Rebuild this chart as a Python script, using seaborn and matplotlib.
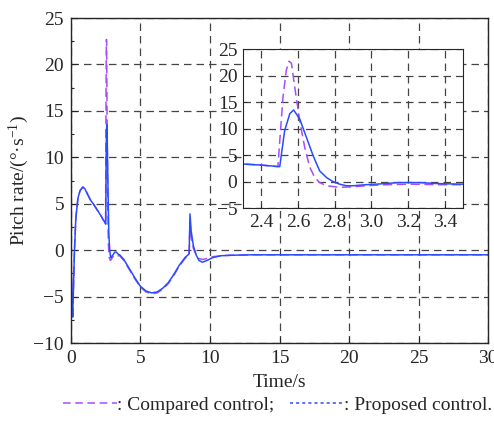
import numpy as np
import matplotlib
matplotlib.use("Agg")
import matplotlib.pyplot as plt
from matplotlib.lines import Line2D
from matplotlib.ticker import MultipleLocator
import seaborn as sns

# Pitch rate (deg/s)
t_prop = [0, 0.06, 0.12, 0.18, 0.25, 0.35, 0.5, 0.65, 0.85, 1.0, 1.2, 1.4, 1.6, 1.9, 2.2, 2.3, 2.4, 2.5,
          2.527, 2.555, 2.576, 2.609, 2.645, 2.682, 2.718, 2.755, 2.79, 2.827, 2.864, 2.9, 2.97, 3.05,
          3.15, 3.26, 3.37, 3.5, 3.8, 4.2, 4.6, 5.0, 5.4, 5.8, 6.2, 6.6, 7.0, 7.4, 7.8, 8.2, 8.5,
          8.56, 8.65, 8.8, 9.0, 9.2, 9.45, 9.8, 10.2, 10.8, 11.5, 13, 30]
y_prop = [0, -5, -7.2, -4, 0, 3.5, 5.6, 6.4, 6.8, 6.6, 6.0, 5.4, 5.0, 4.3, 3.6, 3.3, 3.1, 2.8,
          9.6, 12.8, 13.5, 11.8, 8.4, 4.9, 2.0, 0.76, 0.0, -0.5, -0.8, -0.8, -0.6, -0.45,
          -0.2, -0.2, -0.4, -0.5, -1.0, -2.0, -3.0, -3.9, -4.4, -4.6, -4.5, -4.1, -3.5, -2.6, -1.6, -0.8, -0.4,
          3.9, 2.0, 0.5, -0.5, -1.1, -1.3, -1.1, -0.8, -0.6, -0.55, -0.5, -0.5]

t_cmp = [0, 0.06, 0.12, 0.18, 0.25, 0.35, 0.5, 0.65, 0.85, 1.0, 1.2, 1.4, 1.6, 1.9, 2.2, 2.3, 2.4, 2.49,
         2.518, 2.536, 2.551, 2.564, 2.582, 2.609, 2.636, 2.664, 2.691, 2.718, 2.755, 2.827, 2.9, 2.97,
         3.08, 3.22, 3.37, 3.5, 3.8, 4.2, 4.6, 5.0, 5.4, 5.8, 6.2, 6.6, 7.0, 7.4, 7.8, 8.2, 8.5,
         8.56, 8.65, 8.8, 9.0, 9.2, 9.45, 9.8, 10.2, 10.8, 11.5, 13, 30]
y_cmp = [0, -5, -7.3, -4, 0, 3.5, 5.6, 6.4, 6.8, 6.6, 6.0, 5.4, 5.0, 4.3, 3.6, 3.3, 3.1, 2.8,
         16, 21, 22.7, 22.3, 17.8, 11.5, 6.5, 2.7, 0.76, -0.2, -0.8, -1.1, -1.0, -0.8,
         -0.6, -0.5, -0.6, -0.6, -1.1, -2.1, -3.1, -4.0, -4.5, -4.7, -4.6, -4.2, -3.6, -2.7, -1.7, -0.9, -0.5,
         3.0, 1.5, 0.2, -0.5, -0.9, -1.0, -0.9, -0.7, -0.6, -0.55, -0.5, -0.5]

main_xticks = [0, 5, 10, 15, 20, 25, 30]
main_yticks = [-10, -5, 0, 5, 10, 15, 20, 25]
inset_xticks = [2.4, 2.6, 2.8, 3.0, 3.2, 3.4]
inset_yticks = [-5, 0, 5, 10, 15, 20, 25]

c_cmp = "#a64dff"
c_prop = "#2b4bff"
grid_kw = dict(color="#444444", ls=(0, (6, 4)), lw=0.9)
fs = 14

sns.set_style("ticks")
plt.rcParams["font.family"] = ["Liberation Serif", "DejaVu Serif"]
plt.rcParams["mathtext.fontset"] = "custom"
plt.rcParams["mathtext.rm"] = "Liberation Serif"
plt.rcParams["mathtext.it"] = "Liberation Serif:italic"
plt.rcParams["axes.unicode_minus"] = True
plt.rcParams["font.size"] = fs

fig = plt.figure(figsize=(4.94, 4.24), dpi=100)
ax = fig.add_axes([0.1437, 0.191, 0.8442, 0.7665])

sns.lineplot(x=t_cmp, y=y_cmp, ax=ax, color=c_cmp, lw=1.1, linestyle=(0, (6, 3)))
sns.lineplot(x=t_prop, y=y_prop, ax=ax, color=c_prop, lw=1.1)
ax.set_xlim(0, 30)
ax.set_ylim(-10, 25)
ax.set_xticks(main_xticks)
ax.set_yticks(main_yticks)
ax.yaxis.set_minor_locator(MultipleLocator(2.5))
ax.tick_params(direction="in", length=4, width=0.8, labelsize=fs, pad=5)
ax.tick_params(which="minor", direction="in", length=2.5, width=0.8, axis="y")
ax.grid(True, **grid_kw)
for s in ax.spines.values():
    s.set_linewidth(1.0)
ax.set_xlabel("Time/s", fontsize=fs, labelpad=5)
ax.set_ylabel("Pitch rate/(°·s$^{-1}$)", fontsize=fs, labelpad=2)

# zoomed inset
axi = fig.add_axes([0.492, 0.5094, 0.4453, 0.375])
axi.set_facecolor("white")
sns.lineplot(x=t_cmp, y=y_cmp, ax=axi, color=c_cmp, lw=1.1, linestyle=(0, (6, 3)))
sns.lineplot(x=t_prop, y=y_prop, ax=axi, color=c_prop, lw=1.1)
axi.set_xlim(2.3, 3.5)
axi.set_ylim(-5, 25)
axi.set_xticks(inset_xticks)
axi.set_xticklabels([f"{v:.1f}" for v in inset_xticks])
axi.set_yticks(inset_yticks)
axi.tick_params(direction="in", length=3, width=0.7, labelsize=fs, pad=4)
axi.grid(True, **grid_kw)
for s in axi.spines.values():
    s.set_linewidth(0.8)

handles = [Line2D([], [], color=c_cmp, lw=1.1, ls=(0, (5, 3))),
           Line2D([], [], color=c_prop, lw=1.1, ls=(0, (2, 2)))]
labels = [": Compared control;", ": Proposed control."]
fig.legend(handles, labels, loc="center", bbox_to_anchor=(0.562, 0.045), ncol=2, frameon=False,
           handlelength=2.8, handletextpad=0.0, columnspacing=0.8, fontsize=fs)

fig.savefig("out.png", dpi=100)
